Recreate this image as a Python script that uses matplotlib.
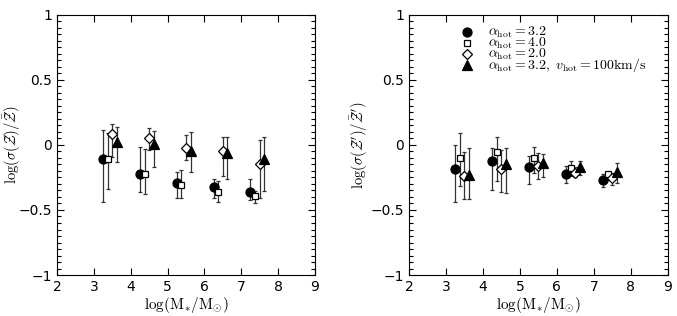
import numpy as np
import matplotlib.pyplot as plt
from matplotlib.ticker import MultipleLocator

plt.rcParams['mathtext.fontset'] = 'cm'
plt.rcParams['font.family'] = 'DejaVu Sans'

# x positions of the four models in each mass bin
mass = np.array([3.25, 4.25, 5.25, 6.25, 7.25])
offsets = [0.0, 0.125, 0.25, 0.375]

labels = [r'$\alpha_{\rm hot}=3.2$', r'$\alpha_{\rm hot}=4.0$',
          r'$\alpha_{\rm hot}=2.0$',
          r'$\alpha_{\rm hot}=3.2,\ v_{\rm hot}=100{\rm km/s}$']

# left panel: value, upper end, lower end of error bar
left_val = [
    [-0.11, -0.225, -0.295, -0.325, -0.36],
    [-0.11, -0.22, -0.31, -0.36, -0.39],
    [0.085, 0.05, -0.02, -0.05, -0.15],
    [0.02, 0.005, -0.045, -0.065, -0.11],
]
left_hi = [
    [0.115, -0.013, -0.205, -0.265, -0.26],
    [0.095, -0.03, -0.19, -0.28, -0.355],
    [0.16, 0.13, 0.08, 0.06, 0.035],
    [0.14, 0.11, 0.10, 0.06, 0.065],
]
left_lo = [
    [-0.44, -0.36, -0.405, -0.41, -0.425],
    [-0.34, -0.375, -0.41, -0.435, -0.445],
    [-0.09, -0.04, -0.115, -0.24, -0.405],
    [-0.13, -0.17, -0.205, -0.265, -0.355],
]

# right panel
right_val = [
    [-0.187, -0.12, -0.172, -0.223, -0.27],
    [-0.097, -0.056, -0.10, -0.18, -0.225],
    [-0.24, -0.185, -0.16, -0.213, -0.256],
    [-0.23, -0.146, -0.14, -0.172, -0.21],
]
right_hi = [
    [0.0, -0.02, -0.085, -0.16, -0.225],
    [0.09, 0.06, -0.013, -0.12, -0.205],
    [-0.056, -0.038, -0.064, -0.17, -0.218],
    [-0.026, -0.02, -0.072, -0.123, -0.14],
]
right_lo = [
    [-0.436, -0.35, -0.30, -0.29, -0.325],
    [-0.315, -0.28, -0.218, -0.236, -0.27],
    [-0.413, -0.364, -0.264, -0.244, -0.308],
    [-0.413, -0.367, -0.249, -0.23, -0.29],
]

styles = [
    dict(marker='o', ms=6.5, mfc='k', mec='k'),
    dict(marker='s', ms=5, mfc='white', mec='k'),
    dict(marker='D', ms=5, mfc='white', mec='k'),
    dict(marker='^', ms=7, mfc='k', mec='k'),
]

fig = plt.figure(figsize=(6.77, 3.16), dpi=100)
ax1 = fig.add_axes([0.0842, 0.1297, 0.381, 0.823])
ax2 = fig.add_axes([0.604, 0.1297, 0.3826, 0.823])


def draw(ax, vals, his, los, ylabel, labx):
    handles = []
    for i in range(4):
        v = np.array(vals[i])
        err = [v - np.array(los[i]), np.array(his[i]) - v]
        ax.errorbar(mass + offsets[i], v, yerr=err, fmt='none',
                    ecolor='#333333', elinewidth=0.9, capsize=1.5, capthick=0.9,
                    zorder=1)
        h, = ax.plot(mass + offsets[i], v, ls='none', mew=0.9, zorder=3,
                     **styles[i])
        handles.append(h)
    ax.set_xlim(2, 9)
    ax.set_ylim(-1, 1)
    ax.xaxis.set_major_locator(MultipleLocator(1))
    ax.yaxis.set_major_locator(MultipleLocator(0.5))
    ax.yaxis.set_minor_locator(MultipleLocator(0.05))
    ax.tick_params(which='both', direction='in', top=True, right=True,
                   labelsize=10, width=0.8)
    ax.tick_params(which='major', length=5)
    ax.tick_params(which='minor', length=3)
    ax.set_yticks([-1, -0.5, 0, 0.5, 1])
    ax.set_yticklabels(['−1', '−0.5', '0', '0.5', '1'])
    ax.set_xlabel(r'$\log(\mathrm{M}_{*}/\mathrm{M}_{\odot})$', fontsize=11,
                  labelpad=1)
    ax.set_ylabel(ylabel, fontsize=10.5)
    ax.yaxis.set_label_coords(labx, 0.5)
    return handles


draw(ax1, left_val, left_hi, left_lo,
     r'$\log(\sigma(\mathcal{Z})/\bar{\mathcal{Z}})$', -0.13)
hs = draw(ax2, right_val, right_hi, right_lo,
          r"$\log(\sigma(\mathcal{Z}')/\bar{\mathcal{Z}}')$", -0.15)

# legend: markers from a blank-label legend, labels as tightly packed text
ax2.legend(hs, [''] * 4, loc='upper left', bbox_to_anchor=(0.193, 0.952),
           frameon=False, fontsize=8, handletextpad=0.0, labelspacing=0.1,
           borderaxespad=0.0, borderpad=0.0, handlelength=1.5)
for i, lab in enumerate(labels):
    ax2.text(0.305, 0.919 - i * 0.0423, lab, transform=ax2.transAxes,
             fontsize=10, va='baseline', ha='left')

fig.savefig('out.png', dpi=100)
